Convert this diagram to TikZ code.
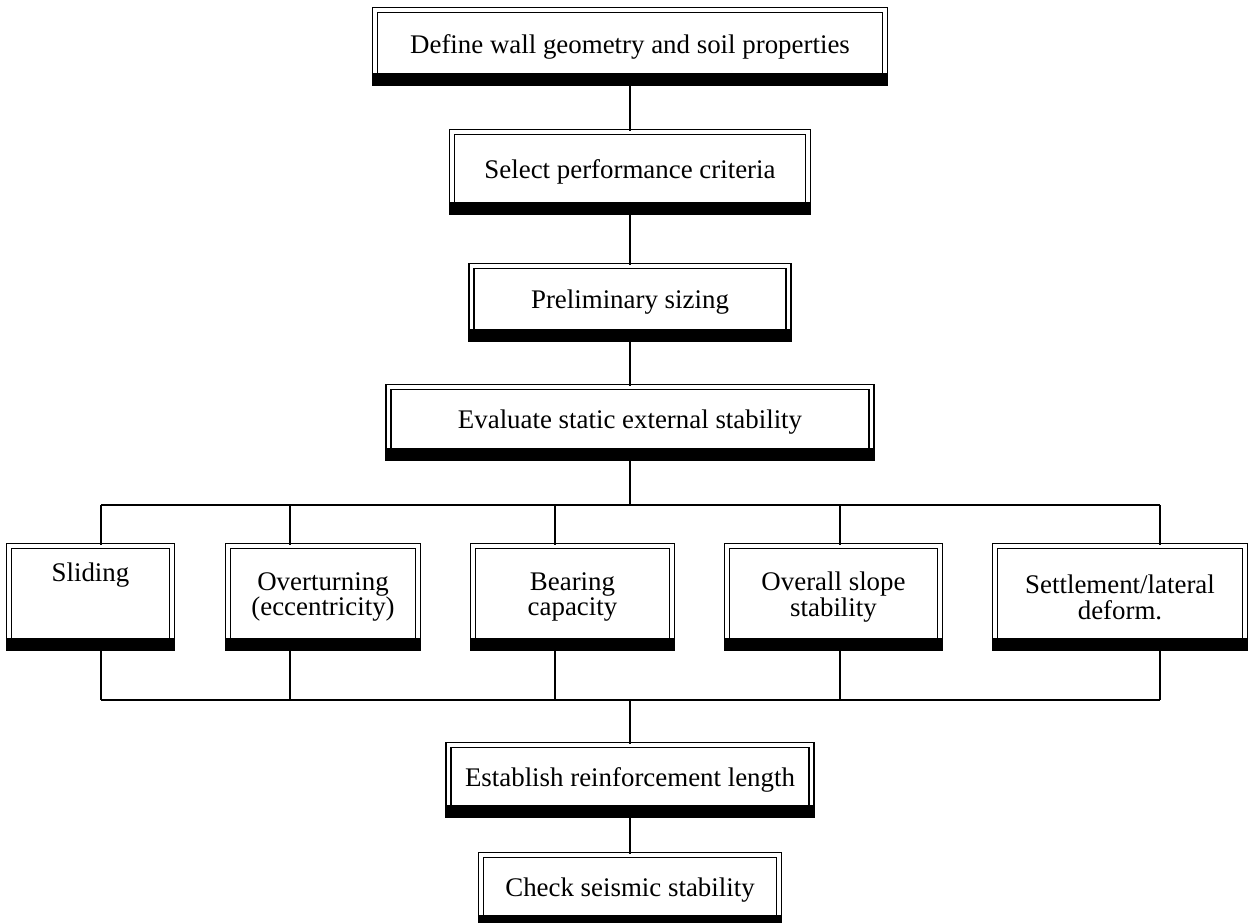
\documentclass[tikz,border=0pt]{standalone}
\usepackage{fontspec}
\setmainfont{Liberation Serif}
\usetikzlibrary{calc}

\tikzset{
  stage/.style={draw, double, double distance=2.2pt, line width=0.7pt,
    fill=white, align=center, inner sep=0pt,
    font=\fontsize{15.3}{14.7}\selectfont},
  wire/.style={line width=1.1pt}
}

\begin{document}
\begin{tikzpicture}[x=0.02cm,y=-0.02cm]
  \useasboundingbox (0,0) rectangle (1248,923);
  % main column (sizes in cm, 1 unit = 0.02cm)
  \node[stage, minimum width=10.2cm, minimum height=1.46cm] (define) at (630,46.5) {Define wall geometry and soil properties};
  \node[stage, minimum width=7.12cm, minimum height=1.6cm] (select) at (630,172) {Select performance criteria};
  \node[stage, minimum width=6.34cm, minimum height=1.46cm] (prelim) at (630,302.5) {Preliminary sizing};
  \node[stage, minimum width=9.66cm, minimum height=1.42cm] (evaluate) at (630,422.5) {Evaluate static external stability};
  % failure modes
  \node[stage, minimum width=3.26cm, minimum height=2.04cm] (sliding) at (90.5,597) {Sliding\\[14pt]};
  \node[stage, minimum width=3.8cm, minimum height=2.04cm] (overturn) at (323,597) {Overturning\\(eccentricity)};
  \node[stage, minimum width=3.98cm, minimum height=2.04cm] (bearing) at (572.5,597) {Bearing\\capacity};
  \node[stage, minimum width=4.26cm, minimum height=2.04cm] (slope) at (833.5,597) {Overall slope\\stability};
  \node[stage, minimum width=5.0cm, minimum height=2.04cm] (settle) at (1120,597) {Settlement/lateral\\deform.};
  \node[stage, minimum width=7.26cm, minimum height=1.4cm] (length) at (630,780) {Establish reinforcement length};
  \node[stage, minimum width=5.96cm, minimum height=1.4cm] (seismic) at (630,890) {Check seismic stability};

  % heavy bar under each box
  \foreach \n in {define,select,prelim,evaluate,sliding,overturn,bearing,slope,settle,length,seismic}
    \fill ($(\n.south west)+(-1,1)$) rectangle ($(\n.south east)+(1,-11)$);

  % bus lines
  \coordinate (topL) at (101,505);
  \coordinate (topR) at (1160,505);
  \coordinate (botL) at (101,700);
  \coordinate (botR) at (1160,700);
  \draw[wire] (topL) -- (topR);
  \draw[wire] (botL) -- (botR);

  \draw[wire] (define) -- (select);
  \draw[wire] (select) -- (prelim);
  \draw[wire] (prelim) -- (evaluate);
  \draw[wire] (evaluate) -- (evaluate |- topL);
  \draw[wire] (length |- botL) -- (length);
  \draw[wire] (length) -- (seismic);

  \foreach \x/\n in {101/sliding,290/overturn,555/bearing,840/slope,1160/settle}{
    \coordinate (up\n) at (\x,505);
    \coordinate (dn\n) at (\x,700);
    \draw[wire] (up\n) -- (up\n |- \n.north);
    \draw[wire] (\n.south -| dn\n) -- (dn\n);
  }
\end{tikzpicture}
\end{document}
